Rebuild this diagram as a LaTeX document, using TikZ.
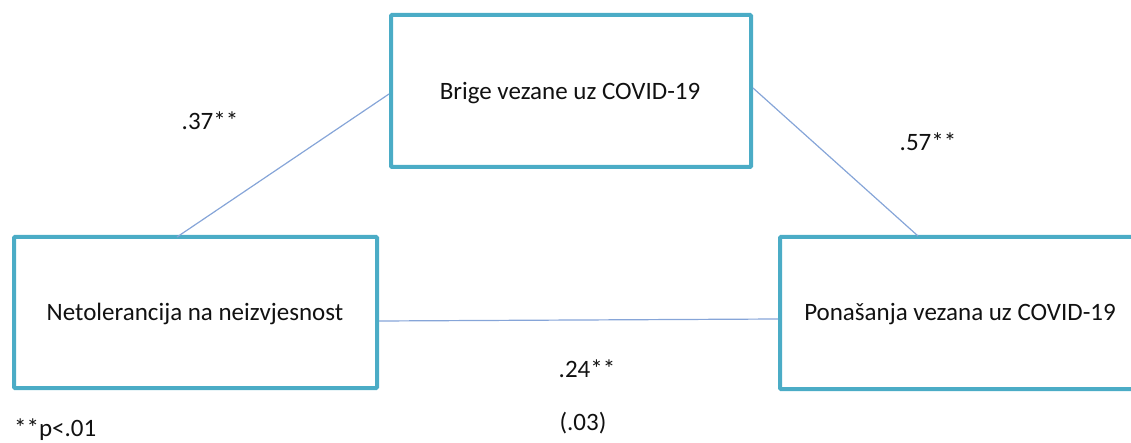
\documentclass[tikz,border=0pt]{standalone}
\usepackage{fontspec}
\setmainfont{Carlito}
\begin{document}
\begin{tikzpicture}[x=1pt,y=-1pt,
  box/.style={draw=boxc, line width=4pt, rounded corners=1pt},
  conn/.style={draw=connc, line width=1.2pt},
  lbl/.style={inner sep=0pt, anchor=base, text=txtc, font=\fontsize{25}{29}\selectfont},
  btxt/.style={inner sep=0pt, text=txtc, font=\fontsize{25}{29}\selectfont}]
\definecolor{boxc}{HTML}{4BACC6}
\definecolor{connc}{HTML}{86A5D8}
\definecolor{txtc}{HTML}{111111}
\useasboundingbox (0,0) rectangle (1131,443);
\clip (0,0) rectangle (1131,443);
% boxes
\draw[box] (14,237) rectangle (377,388);
\draw[box] (391,15) rectangle (751,167);
\draw[box] (780,237) rectangle (1150,389);
\node[btxt] (nt) at (195,314) {Netolerancija na neizvjesnost};
\node[btxt] (br) at (570,93) {Brige vezane uz COVID-19};
\node[btxt] (po) at (960,314) {Ponašanja vezana uz COVID-19};
% connector anchor points
\coordinate (ltop) at (177,237);
\coordinate (bleft) at (389,94);
\coordinate (bright) at (753,88);
\coordinate (rtop) at (918,236);
\coordinate (lright) at (379,321);
\coordinate (rleft) at (778,319);
\draw[conn] (ltop) -- (bleft);
\draw[conn] (bright) -- (rtop);
\draw[conn] (lright) -- (rleft);
% labels
\node[lbl] (l1) at (210,130) {.37**};
\node[lbl] (l2) at (928,151) {.57**};
\node[lbl] (l3) at (587,377) {.24**};
\node[lbl] (l4) at (583,430) {(.03)};
\node[lbl, anchor=base west] (l5) at (14,436) {**p<.01};
\end{tikzpicture}
\end{document}
